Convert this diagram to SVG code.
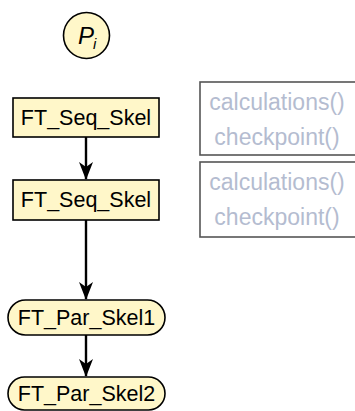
<svg xmlns="http://www.w3.org/2000/svg" width="355" height="411" viewBox="0 0 355 411">
<defs>
<style>
.node{fill:#fff7c9;stroke:#000;stroke-width:1.6}
.lbl{font-family:"Liberation Sans",Arial,sans-serif;font-size:21.5px;fill:#000;text-anchor:middle}
.code{font-family:"Liberation Sans",Arial,sans-serif;font-size:23px;fill:#b4bcd0;text-anchor:middle}
.box{fill:#fff;stroke:#555;stroke-width:1.6}
.conn{stroke:#000;stroke-width:2.4;fill:none}
</style>
<marker id="arr" viewBox="0 0 18 16" refX="17" refY="8" markerWidth="18" markerHeight="16" markerUnits="userSpaceOnUse" orient="auto">
<path d="M0,1 L18,8 L0,15 L5,8 Z" fill="#000"/>
</marker>
</defs>
<g id="pi">
<circle class="node" cx="86.5" cy="35.5" r="23"/>
<text x="78" y="44" font-family="'Liberation Sans',Arial,sans-serif" font-size="24" font-style="italic">P</text>
<text x="93" y="49" font-family="'Liberation Sans',Arial,sans-serif" font-size="15" font-style="italic">i</text>
</g>
<g id="seq1">
<rect class="node" x="13" y="98" width="146" height="39"/>
<text class="lbl" x="86" y="125">FT_Seq_Skel</text>
</g>
<g id="seq2">
<rect class="node" x="13" y="180" width="146" height="40"/>
<text class="lbl" x="86" y="207">FT_Seq_Skel</text>
</g>
<g id="par1">
<rect class="node" x="8" y="300" width="157" height="35" rx="17.5"/>
<text class="lbl" x="86.5" y="325" font-size="22">FT_Par_Skel1</text>
</g>
<g id="par2">
<rect class="node" x="8" y="377" width="157" height="33" rx="16.5"/>
<text class="lbl" x="86.5" y="401" font-size="22">FT_Par_Skel2</text>
</g>
<g id="codeA">
<rect class="box" x="200" y="82" width="170" height="73"/>
<text class="code" x="277" y="110">calculations()</text>
<text class="code" x="277" y="145">checkpoint()</text>
</g>
<g id="codeB">
<rect class="box" x="200" y="162" width="170" height="75"/>
<text class="code" x="277" y="190">calculations()</text>
<text class="code" x="277" y="225">checkpoint()</text>
</g>
<g id="connectors">
<line class="conn" x1="86" y1="137" x2="86" y2="179" marker-end="url(#arr)"/>
<line class="conn" x1="86" y1="220" x2="86" y2="299" marker-end="url(#arr)"/>
<line class="conn" x1="86" y1="335" x2="86" y2="376" marker-end="url(#arr)"/>
</g>
</svg>
